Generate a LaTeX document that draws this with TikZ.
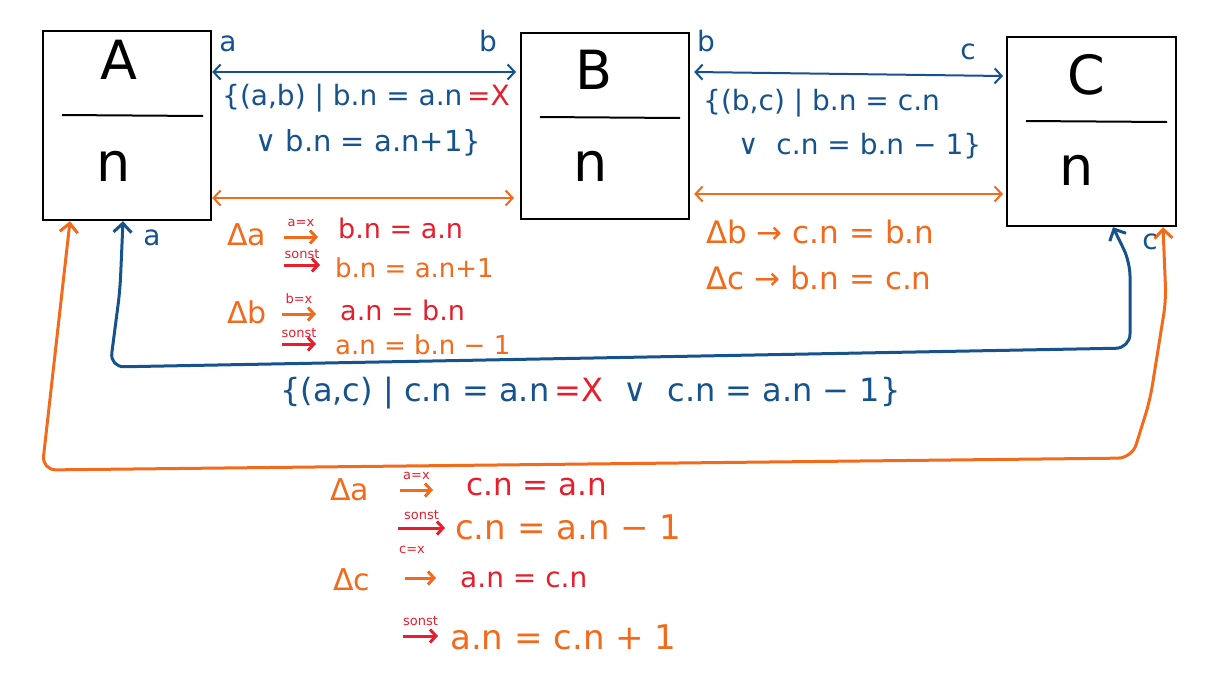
\documentclass[tikz,border=0pt]{standalone}
\usepackage{fontspec}
\setmainfont{DejaVu Sans}
\usetikzlibrary{arrows.meta}
\definecolor{myblue}{RGB}{22,82,140}
\definecolor{myorange}{RGB}{242,106,27}
\definecolor{myred}{RGB}{230,30,45}
\newcommand{\fs}[1]{\fontsize{#1}{#1}\selectfont}
\begin{document}
\begin{tikzpicture}[x=1pt,y=-1pt,
 box/.style={draw=black,line width=2.2pt,minimum width=168pt,inner sep=0pt,anchor=north west},
 divider/.style={draw=black,line width=2pt},
 boxtxt/.style={font=\fs{54},inner sep=0pt},
 blink/.style={draw=myblue,line width=2pt,{Straight Barb[length=7pt,width=15pt]}-{Straight Barb[length=7pt,width=15pt]}},
 olink/.style={draw=myorange,line width=2pt,{Straight Barb[length=7pt,width=15pt]}-{Straight Barb[length=7pt,width=15pt]}},
 bconn/.style={draw=myblue,line width=3pt,rounded corners=14pt,{Straight Barb[length=9pt,width=18pt]}-{Straight Barb[length=9pt,width=18pt]}},
 oconn/.style={draw=myorange,line width=3pt,rounded corners=14pt,{Straight Barb[length=9pt,width=18pt]}-{Straight Barb[length=9pt,width=18pt]}},
 oarr/.style={draw=myorange,line width=3pt,-{Straight Barb[length=6pt,width=13pt]}},
 rarr/.style={draw=myred,line width=3pt,-{Straight Barb[length=6pt,width=13pt]}},
 txt/.style={font=\fs{28},anchor=west,inner sep=0pt},
 bt/.style={txt,text=myblue},
 ot/.style={txt,text=myorange},
 rt/.style={txt,text=myred},
 sml/.style={font=\fs{13},text=myred,inner sep=0pt},
 endlbl/.style={font=\fs{28},text=myblue,inner sep=0pt}
]
\useasboundingbox (0,0) rectangle (1216,686);
% boxes
\node[box,minimum height=189pt] (A) at (42,30) {};
\node[box,minimum height=186pt] (B) at (520,32) {};
\node[box,minimum height=189pt,minimum width=169pt] (C) at (1006,36) {};
\draw[divider] ([xshift=20pt,yshift=-85pt]A.north west) -- ([xshift=-9pt,yshift=-86pt]A.north east);
\draw[divider] ([xshift=20pt,yshift=-85pt]B.north west) -- ([xshift=-10pt,yshift=-86pt]B.north east);
\draw[divider] ([xshift=20pt,yshift=-85pt]C.north west) -- ([xshift=-10pt,yshift=-86pt]C.north east);
\node[boxtxt] (At) at (119,60) {A};
\node[boxtxt] (An) at (114,166) {n};
\node[boxtxt] (Bt) at (594,70) {B};
\node[boxtxt] (Bn) at (591,166) {n};
\node[boxtxt] (Ct) at (1086,75) {C};
\node[boxtxt] (Cn) at (1077,170) {n};
% horizontal links
\coordinate (yab) at (0,72);
\coordinate (ybc1) at (0,72);
\coordinate (ybc2) at (0,76);
\coordinate (yoab) at (0,198);
\coordinate (yobc) at (0,194);
\draw[blink] (A.east |- yab) -- ([xshift=-4pt]B.west |- yab);
\draw[blink] ([xshift=4pt]B.east |- ybc1) -- ([xshift=-3pt]C.west |- ybc2);
\draw[olink] (A.east |- yoab) -- ([xshift=-6pt]B.west |- yoab);
\draw[olink] ([xshift=4pt]B.east |- yobc) -- ([xshift=-3pt]C.west |- yobc);
\node[endlbl] (la1) at (228,44) {a};
\node[endlbl] (lb1) at (488,41) {b};
\node[endlbl] (lb2) at (706,41) {b};
\node[endlbl] (lc2) at (968,52) {c};
% relation texts
\node[bt] (ab1) at (222,98) {\{(a,b) | b.n = a.n\,\textcolor{myred}{=X}};
\node[bt,font=\fs{29}] (ab2) at (255,143) {∨ b.n = a.n+1\}};
\node[bt] (bc1) at (703,103) {\{(b,c) | b.n = c.n};
\node[bt] (bc2) at (738,146) {∨\ \ c.n = b.n − 1\}};
% bottom links
\coordinate (aS1) at ([xshift=81pt]A.south west);
\coordinate (aS2) at ([xshift=28pt]A.south west);
\coordinate (cS1) at ([xshift=107pt]C.south west);
\coordinate (cS2) at ([xshift=157pt]C.south west);
\draw[bconn] (aS1) -- (120,290) -- (110,367) -- (1130,348) -- (1130,262) -- (cS1);
\draw[oconn] (aS2) -- (42,470) -- (1132,458) -- (1150,400) -- (1166,300) -- (cS2);
\node[endlbl] (la2) at (152,238) {a};
\node[endlbl] (lc3) at (1150,242) {c};
\node[bt,font=\fs{32}] (ac) at (280,393) {\{(a,c) | c.n = a.n\,\textcolor{myred}{=X}\ \ ∨\ \ c.n = a.n − 1\}};
% A-B rules
\node[ot,font=\fs{30}] (da1) at (227,235) {Δa};
\draw[oarr] (284,237) -- (318,237) node[midway,above=9pt,sml] {a=x};
\node[rt,font=\fs{27}] (r1) at (338,228) {b.n = a.n};
\draw[rarr] (284,265) -- (320,265) node[midway,above=5pt,sml] {sonst};
\node[ot,font=\fs{26}] (r2) at (335,268) {b.n = a.n+1};
\node[ot,font=\fs{30}] (db1) at (227,312) {Δb};
\draw[oarr] (282,314) -- (316,314) node[midway,above=9pt,sml] {b=x};
\node[rt,font=\fs{27}] (r3) at (340,310) {a.n = b.n};
\draw[rarr] (282,344) -- (316,344) node[midway,above=5pt,sml] {sonst};
\node[ot,font=\fs{26}] (r4) at (335,345) {a.n = b.n − 1};
% B-C rules
\node[ot,font=\fs{31}] (bcr1) at (706,232) {Δb → c.n = b.n};
\node[ot,font=\fs{31}] (bcr2) at (706,278) {Δc → b.n = c.n};
% A-C rules
\node[ot,font=\fs{30}] (da2) at (330,490) {Δa};
\draw[oarr] (400,490) -- (433,490) node[midway,above=9pt,sml] {a=x};
\node[rt,font=\fs{31}] (r5) at (466,487) {c.n = a.n};
\draw[rarr] (398,528) -- (445,528) node[midway,above=7pt,sml] {sonst};
\node[ot,font=\fs{34}] (r6) at (455,527) {c.n = a.n − 1};
\node[sml] (cx) at (412,550) {c=x};
\node[ot,font=\fs{30}] (dc2) at (333,580) {Δc};
\draw[oarr] (405,578) -- (436,578);
\node[rt,font=\fs{28}] (r7) at (460,580) {a.n = c.n};
\draw[rarr] (403,636) -- (438,636) node[midway,above=9pt,sml] {sonst};
\node[ot,font=\fs{34}] (r8) at (450,637) {a.n = c.n + 1};
\end{tikzpicture}
\end{document}
